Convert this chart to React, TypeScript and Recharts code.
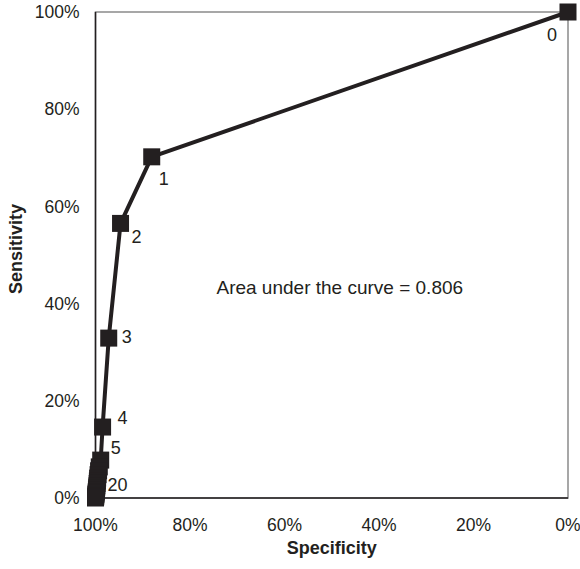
import {
  ScatterChart,
  Scatter,
  XAxis,
  YAxis,
  ReferenceArea,
  ReferenceDot,
} from "recharts";

// ROC points, cut-off 0..20
const cutoffs = [0, 1, 2, 3, 4, 5, 6, 7, 8, 9, 10, 11, 12, 13, 14, 15, 16, 17, 18, 19, 20];
const specificity = [
  0, 88.1, 94.7, 97.2, 98.5, 98.9, 99.2, 99.35, 99.45, 99.55, 99.6, 99.65, 99.7, 99.75, 99.8,
  99.84, 99.88, 99.92, 99.95, 99.98, 100,
];
const sensitivity = [
  100, 70.2, 56.5, 32.9, 14.6, 7.8, 6.4, 5.6, 4.8, 4.1, 3.5, 3.0, 2.5, 2.1, 1.7, 1.3, 1.0, 0.7,
  0.4, 0.2, 0,
];
const shownLabels = [0, 1, 2, 3, 4, 5, 20];
const axisTicks = [100, 80, 60, 40, 20, 0];
const aucText = "Area under the curve = 0.806";

const data = cutoffs.map((c, i) => ({
  cutoff: c,
  spec: specificity[i],
  sens: sensitivity[i],
}));

const INK = "#231f20";
const FONT = "'Liberation Sans', Arial, Helvetica, sans-serif";

// where each visible number sits relative to its marker
const labelOffset: Record<number, [number, number]> = {
  0: [-16, 23],
  1: [12, 22],
  2: [16, 14],
  3: [18, -1],
  4: [20, -9],
  5: [15, -12],
  20: [22, -13],
};

function SquareMarker(props: any) {
  const { cx, cy, payload } = props;
  const s = 17;
  const c = payload.cutoff;
  const off = labelOffset[c];
  return (
    <g>
      <rect x={cx - s / 2} y={cy - s / 2} width={s} height={s} fill={INK} />
      {shownLabels.includes(c) && off ? (
        <text
          x={cx + off[0]}
          y={cy + off[1]}
          textAnchor="middle"
          dominantBaseline="central"
          fontSize={18}
          fontFamily={FONT}
          fill={INK}
        >
          {c}
        </text>
      ) : null}
    </g>
  );
}

function YTitle(props: any) {
  const vb = props.viewBox;
  return (
    <text
      x={0}
      y={0}
      transform={`translate(22, ${vb.y + vb.height / 2 - 6}) rotate(-90)`}
      textAnchor="middle"
      fontSize={18}
      fontWeight="bold"
      fontFamily={FONT}
      fill={INK}
    >
      Sensitivity
    </text>
  );
}

export default function App() {
  return (
    <div style={{ position: "absolute", left: 0, top: 0, background: "#fff" }}>
      <ScatterChart
        width={580}
        height={569}
        margin={{ top: 12, right: 12, bottom: 0, left: 0 }}
      >
        <ReferenceArea
          x1={100}
          x2={0}
          y1={0}
          y2={100}
          fill="none"
          stroke="#8a8a8a"
          strokeWidth={1.5}
        />
        <XAxis
          type="number"
          dataKey="spec"
          domain={[0, 100]}
          reversed
          ticks={axisTicks}
          tickFormatter={(v) => `${v}%`}
          tickLine={false}
          tickSize={0}
          tickMargin={21}
          interval={0}
          height={71}
          axisLine={{ stroke: INK, strokeWidth: 1.5 }}
          tick={{ fontSize: 17.5, fill: INK, fontFamily: FONT }}
          label={{
            value: "Specificity",
            position: "insideBottom",
            offset: 15,
            fontSize: 18,
            fontWeight: "bold",
            fontFamily: FONT,
            fill: INK,
          }}
        />
        <YAxis
          type="number"
          dataKey="sens"
          domain={[0, 100]}
          ticks={axisTicks.slice().reverse()}
          tickFormatter={(v) => `${v}%`}
          tickLine={false}
          tickSize={0}
          tickMargin={16}
          interval={0}
          width={95.5}
          axisLine={{ stroke: INK, strokeWidth: 1.5 }}
          tick={{ fontSize: 17.5, fill: INK, fontFamily: FONT }}
          label={<YTitle />}
        />
        <ReferenceDot
          x={48.3}
          y={43.3}
          r={0}
          fill="none"
          stroke="none"
          label={{
            value: aucText,
            position: "center",
            fontSize: 19,
            fontFamily: FONT,
            fill: INK,
          }}
        />
        <Scatter
          data={data}
          line={{ stroke: INK, strokeWidth: 4 }}
          lineType="joint"
          shape={<SquareMarker />}
          isAnimationActive={false}
        />
      </ScatterChart>
    </div>
  );
}
